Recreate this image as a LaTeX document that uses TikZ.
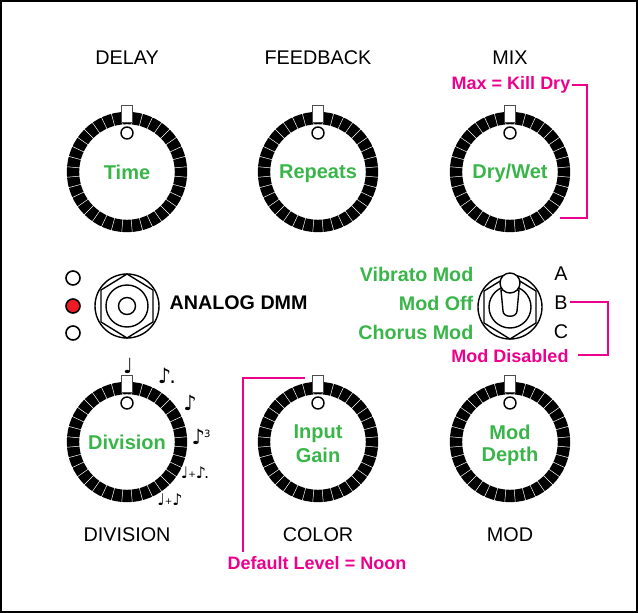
\documentclass[tikz,border=0pt]{standalone}
\usepackage{fontspec}
\setmainfont{Liberation Sans}
\newfontfamily\notefont{DejaVu Sans}
\usepackage{tikz}
\usetikzlibrary{positioning}
\definecolor{knobgreen}{RGB}{57,181,74}
\definecolor{notepink}{RGB}{236,0,140}
\definecolor{ledred}{RGB}{237,28,36}
\newcommand{\knobstrut}{\rule[-4pt]{0pt}{22pt}}
\newcommand{\knobtopstrut}{\rule{0pt}{21pt}}
\tikzset{
    knobface/.style={circle, fill=white, minimum size=94pt, inner sep=0pt, align=center, text=knobgreen, font=\fontsize{20}{22}\selectfont\bfseries},
    caption/.style={font=\fontsize{19.8}{22}\selectfont},
    greenlabel/.style={text=knobgreen, inner sep=0pt, font=\fontsize{19.7}{22}\selectfont\bfseries},
    pinklabel/.style={text=notepink, inner sep=2pt, font=\fontsize{18}{20}\selectfont\bfseries},
    pinkline/.style={draw=notepink, line width=1.6pt},
    led/.style={circle, draw, line width=1.6pt, minimum size=14pt, inner sep=0pt},
    notemark/.style={inner sep=0pt, font=\notefont\fontsize{21}{22}\selectfont},
    pairmark/.style={inner sep=0pt, font=\notefont\fontsize{16}{18}\selectfont},
    ringline/.style={line width=1.4pt}
}
\begin{document}
\begin{tikzpicture}[x=1pt, y=-1pt, node distance=191pt]
    \useasboundingbox (0,0) rectangle (638,613);
    \draw [line width=1.6pt] (1,1) rectangle (637,612); % Panel edge

    % Knobs
    \node [knobface] at (127,172) (Time) {Time\knobstrut};
    \node [knobface, right of=Time] (Repeats) {Repeats\knobstrut};
    \node [knobface, right of=Repeats, node distance=192pt] (DryWet) {Dry/Wet\knobstrut};
    \node [knobface] at (127,442) (Division) {Division\knobstrut};
    \node [knobface, right of=Division] (InputGain) {Input\knobtopstrut\\Gain\knobstrut};
    \node [knobface, right of=InputGain, node distance=192pt] (ModDepth) {Mod\knobtopstrut\\Depth\knobstrut};

    % Rings, pointers and dots
    \foreach \knob in {Time,Repeats,DryWet,Division,InputGain,ModDepth} {
        \draw [line width=12.4pt] (\knob.center) circle (54pt);
        \foreach \a in {5,15,...,355}
            \draw [white, line width=0.5pt] (\knob.center) ++(\a:47pt) -- ++(\a:14pt);
        \node [draw=black!70, fill=white, line width=1pt, minimum width=11pt, minimum height=17pt, inner sep=0pt] at ([yshift=58.5pt]\knob.center) {};
        \node [circle, draw, fill=white, line width=1.4pt, minimum size=12pt, inner sep=0pt] at ([yshift=39pt]\knob.center) {};
    }

    % Top and bottom captions
    \node [caption] at (127,58) (DelayCap) {DELAY};
    \node [caption] at (318,58) (FeedbackCap) {FEEDBACK};
    \node [caption] at (510,58) (MixCap) {MIX};
    \node [caption] at (127,535) (DivisionCap) {DIVISION};
    \node [caption] at (318,535) (ColorCap) {COLOR};
    \node [caption] at (510,535) (ModCap) {MOD};

    % LEDs and jack
    \node [led] at (73,278) (LedTop) {};
    \node [led, fill=ledred] at (73,306) (LedMid) {};
    \node [led] at (73,333) (LedLow) {};
    \coordinate (Jack) at (127,306);
    \draw [ringline] (Jack) circle (32pt);
    \draw [ringline] (Jack) circle (21pt);
    \draw [ringline] (Jack) circle (8.5pt);
    \draw [ringline] (127,274) -- (153,290) -- (153,322) -- (127,338) -- (101,322) -- (101,290) -- cycle;
    \node [greenlabel, text=black, anchor=west] at (169.5,303) (JackLabel) {ANALOG DMM};

    % Toggle switch
    \coordinate (Toggle) at (510,307);
    \draw [ringline] (Toggle) circle (32pt);
    \draw [ringline] (Toggle) circle (21pt);
    \draw [ringline] (510,275) -- (536,291) -- (536,323) -- (510,339) -- (484,323) -- (484,291) -- cycle;
    \draw [ringline, fill=white] (501,290) -- (503,311) .. controls (503,318) and (517,318) .. (517,311) -- (519,290) -- cycle;
    \draw [ringline, fill=white] (510,283) circle (10pt);

    % Switch labels
    \node [greenlabel, anchor=east] at (473.5,274) (Vibrato) {Vibrato Mod};
    \node [greenlabel, anchor=east] at (473.5,303) (ModOff) {Mod Off};
    \node [greenlabel, anchor=east] at (473.5,332) (Chorus) {Chorus Mod};
    \node [caption, inner sep=0pt] at (561,274) (PosA) {A};
    \node [caption, inner sep=0pt] at (561,303) (PosB) {B};
    \node [caption, inner sep=0pt] at (561,332) (PosC) {C};

    % Division marks
    \node [notemark] at (128,366) (NoteA) {♩};
    \node [notemark] at (167,376) (NoteB) {♪\kern-2pt.};
    \node [notemark] at (190,403) (NoteC) {♪};
    \node [notemark] at (201,437) (NoteD) {♪\kern-1pt\raisebox{7pt}{\fontsize{10}{10}\selectfont 3}};
    \node [pairmark] at (195,473) (NoteE) {♩\raisebox{1pt}{\fontsize{9}{10}\selectfont +}♪\kern-2pt.};
    \node [pairmark] at (170,500) (NoteF) {♩\raisebox{1pt}{\fontsize{9}{10}\selectfont +}♪};

    % Pink notes
    \node [pinklabel] at (511,85) (KillDry) {Max = Kill Dry};
    \node [pinklabel] at (510,356) (ModDisabled) {Mod Disabled};
    \node [pinklabel] at (317,563) (DefaultLevel) {Default Level = Noon};
    \coordinate (MixEnd) at (560,218);
    \coordinate (MixCorner) at (587,218);
    \coordinate (SwitchStart) at (570,302);
    \coordinate (SwitchCorner) at (608,355);
    \coordinate (SwitchEnd) at (578,355);
    \coordinate (GainEnd) at (305,378);
    \coordinate (GainCorner) at (243,378);
    \coordinate (LevelEnd) at (243,552);

    % Connections
    \draw [pinkline] (KillDry.east) -| (MixCorner) -- (MixEnd);
    \draw [pinkline] (SwitchStart) -| (SwitchCorner) -- (SwitchEnd);
    \draw [pinkline] (GainEnd) -- (GainCorner) -- (LevelEnd);

\end{tikzpicture}
\end{document}
